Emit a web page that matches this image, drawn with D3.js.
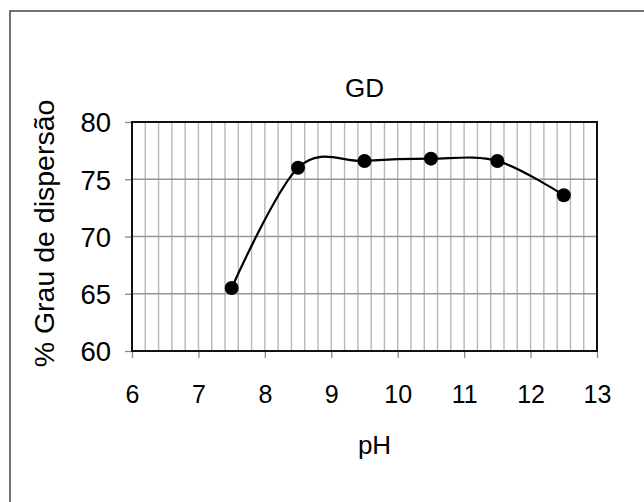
<!DOCTYPE html>
<html><head><meta charset="utf-8">
<script src="https://cdn.jsdelivr.net/npm/d3@7"></script>
<style>body{margin:0;background:#fff}svg{display:block}text{font-family:"Liberation Sans",Arial,sans-serif;fill:#000}</style>
</head><body>
<svg id="c" width="644" height="502"></svg>
<script>
const phValues = [7.5, 8.5, 9.5, 10.5, 11.5, 12.5];
const dispersion = [65.5, 76.0, 76.6, 76.8, 76.6, 73.6];
const xTicks = [6, 7, 8, 9, 10, 11, 12, 13];
const yTicks = [60, 65, 70, 75, 80];
const title = "GD";
const xLabel = "pH";
const yLabel = "% Grau de dispersão";

const svg = d3.select("#c");
const m = {l:132, r:597, t:122, b:351};
const x = d3.scaleLinear().domain([6,13]).range([m.l, m.r]);
const y = d3.scaleLinear().domain([60,80]).range([m.b, m.t]);

// outer frame
svg.append("rect").attr("x",10).attr("y",11).attr("width",700).attr("height",600)
  .attr("fill","none").attr("stroke","#444").attr("stroke-width",1.5);

// minor vertical grid
const minor = d3.range(0, 36).map(i => 6 + i*0.2).filter(v => v > 6.01 && v < 12.99);
svg.append("g").selectAll("line").data(minor).join("line")
  .attr("x1", d=>x(d)).attr("x2", d=>x(d)).attr("y1", m.t).attr("y2", m.b)
  .attr("stroke","#b8b8b8").attr("stroke-width",1.4);
// horizontal grid
svg.append("g").selectAll("line").data(yTicks.slice(1,-1)).join("line")
  .attr("x1", m.l).attr("x2", m.r).attr("y1", d=>y(d)).attr("y2", d=>y(d))
  .attr("stroke","#969696").attr("stroke-width",1.4);

// axes
const xa = svg.append("g").attr("transform",`translate(0,${m.b})`)
  .call(d3.axisBottom(x).tickValues(xTicks).tickSize(7).tickPadding(27).tickFormat(d3.format("d")));
const ya = svg.append("g").attr("transform",`translate(${m.l},0)`)
  .call(d3.axisLeft(y).tickValues(yTicks).tickSize(7).tickPadding(14).tickFormat(d3.format("d")));
[xa, ya].forEach(a => {
  a.select(".domain").remove();
  a.selectAll(".tick line").attr("stroke","#888").attr("stroke-width",1.3);
  a.selectAll(".tick text").attr("font-family","Liberation Sans, Arial, sans-serif");
});
xa.selectAll(".tick text").attr("font-size",25).attr("dy","0.72em");
ya.selectAll(".tick text").attr("font-size",27.5).attr("dy","0.36em");

// plot border
svg.append("rect").attr("x",m.l).attr("y",m.t).attr("width",m.r-m.l).attr("height",m.b-m.t)
  .attr("fill","none").attr("stroke","#111").attr("stroke-width",2);

// line
const pts = phValues.map((p,i)=>[p, dispersion[i]]);
svg.append("path").datum(pts)
  .attr("d", d3.line().x(d=>x(d[0])).y(d=>y(d[1])).curve(d3.curveCardinal.tension(0)))
  .attr("fill","none").attr("stroke","#000").attr("stroke-width",2.2);
svg.append("g").selectAll("circle").data(pts).join("circle")
  .attr("cx", d=>x(d[0])).attr("cy", d=>y(d[1])).attr("r",7).attr("fill","#000");

// texts
svg.append("text").attr("x",(m.l+m.r)/2).attr("y",97).attr("text-anchor","middle")
  .attr("font-size",26).text(title);
svg.append("text").attr("x",(m.l+m.r)/2 + 10).attr("y",454).attr("text-anchor","middle")
  .attr("font-size",26).text(xLabel);
svg.append("text").attr("transform",`translate(54,${(m.t+m.b)/2 - 3}) rotate(-90)`)
  .attr("text-anchor","middle").attr("font-size",28.5).text(yLabel);
</script>
</body></html>
